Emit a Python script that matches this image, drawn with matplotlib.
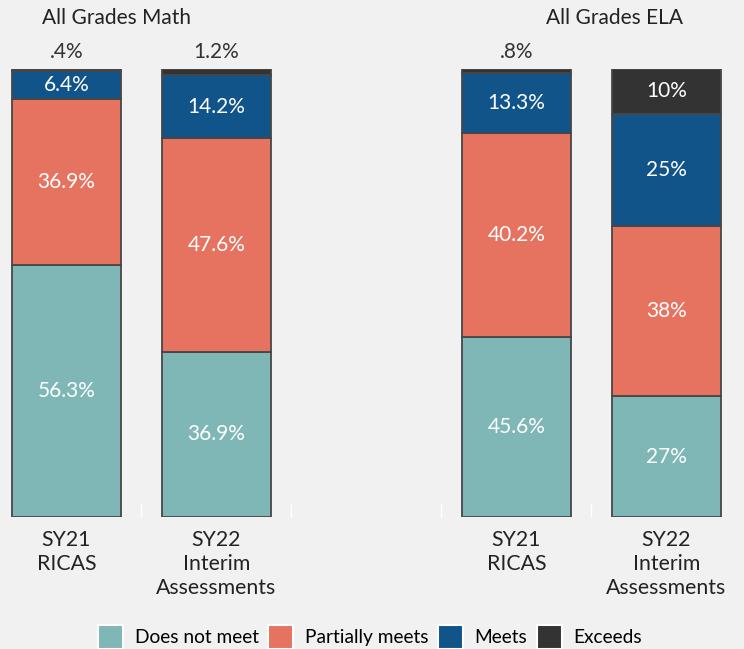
import numpy as np
import matplotlib.pyplot as plt
from matplotlib.patches import Patch

plt.rcParams['font.family'] = ['Lato', 'DejaVu Sans']

# data (segment heights as drawn; labels as printed)
groups = ["All Grades Math", "All Grades ELA"]
bar_labels = ["SY21\nRICAS", "SY22\nInterim\nAssessments",
              "SY21\nRICAS", "SY22\nInterim\nAssessments"]
levels = ["Does not meet", "Partially meets", "Meets", "Exceeds"]
does_not_meet = [56.3, 36.9, 40.2, 27]
partially_meets = [36.9, 47.6, 45.6, 38]
meets = [6.4, 14.2, 13.4, 25]
exceeds = [0.4, 1.2, 0.8, 10]
dnm_txt = ["56.3%", "36.9%", "45.6%", "27%"]
pm_txt = ["36.9%", "47.6%", "40.2%", "38%"]
meets_txt = ["6.4%", "14.2%", "13.3%", "25%"]
exceeds_txt = [".4%", "1.2%", ".8%", "10%"]

colors = ["#7fb7b7", "#e57360", "#115489", "#333333"]

bg = "#f1f1f1"
fig = plt.figure(figsize=(7.44, 6.49), dpi=100, facecolor=bg)
ax = fig.add_axes([0, 1 - 517 / 649, 1, (517 - 69) / 649])
ax.set_facecolor(bg)

x = np.array([0, 1, 3, 4])
series = [does_not_meet, partially_meets, meets, exceeds]
texts = [dnm_txt, pm_txt, meets_txt, exceeds_txt]
bottom = np.zeros(4)
for i, vals in enumerate(series):
    vals = np.array(vals, dtype=float)
    ax.bar(x, vals, width=0.727, bottom=bottom, color=colors[i],
           edgecolor="#474747", linewidth=1.3)
    for j in range(4):
        if vals[j] >= 5:
            ax.text(x[j], bottom[j] + vals[j] / 2, texts[i][j], ha="center",
                    va="center", color="white", fontsize=15)
        else:
            ax.text(x[j], 101.5, texts[i][j], ha="center", va="bottom",
                    color="#333333", fontsize=15, clip_on=False)
    bottom += vals

ax.set_xlim(-0.443, 4.517)
ax.set_ylim(0, 100)
for s in ax.spines.values():
    s.set_visible(False)
ax.set_yticks([])
ax.set_xticks(x)
ax.set_xticklabels(bar_labels, fontsize=15.3, color="#222222", linespacing=1.27)
ax.tick_params(axis="x", length=0, pad=9)
ax.set_xticks([0.5, 1.5, 2.5, 3.5], minor=True)
ax.tick_params(axis="x", which="minor", direction="in", length=10,
               color="white", width=1)

fig.text(117 / 744, 1 - 18 / 649, groups[0], ha="center", va="center",
         fontsize=15, color="#222222")
fig.text(614 / 744, 1 - 18 / 649, groups[1], ha="center", va="center",
         fontsize=15, color="#222222")

handles = [Patch(facecolor=c, edgecolor="white", linewidth=1.5) for c in colors]
fig.legend(handles, levels, loc="center", bbox_to_anchor=(370 / 744, 1 - 637 / 649),
           ncol=4, frameon=False, fontsize=13.8, handlelength=1.3,
           handleheight=1.5, handletextpad=0.6, columnspacing=0.5)

fig.savefig("out.png", dpi=100, facecolor=bg)
